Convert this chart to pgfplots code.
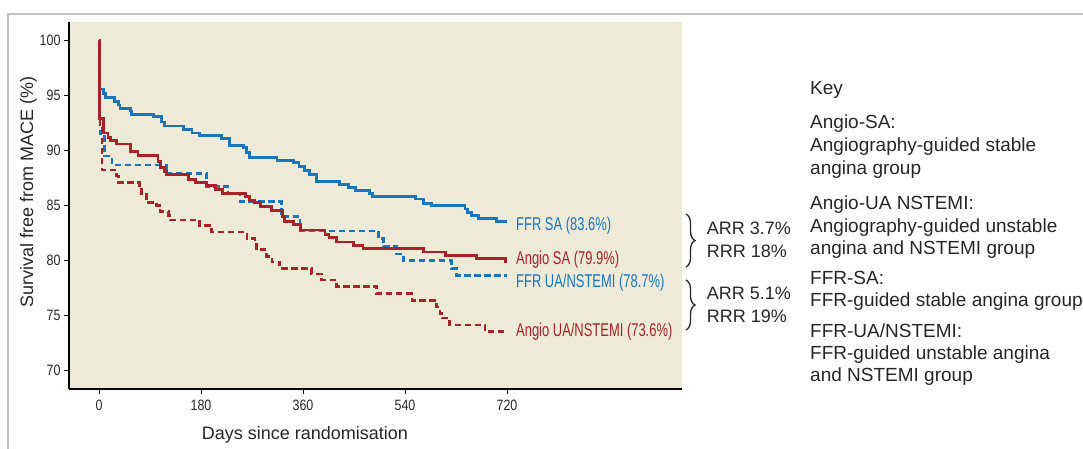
\documentclass[border=0pt]{standalone}
\usepackage{pgfplots}
\pgfplotsset{compat=1.18}
\usepackage{fontspec}
\setmainfont{Liberation Sans}
\newfontfamily\condensed[FakeStretch=0.70]{Liberation Sans}
\newfontfamily\tickfont[FakeStretch=0.83]{Liberation Sans}
\usetikzlibrary{decorations.pathreplacing}
\definecolor{ffrblue}{RGB}{27,117,188}
\definecolor{angred}{RGB}{168,34,40}
\definecolor{bgbeige}{RGB}{237,234,216}
\definecolor{framegray}{RGB}{195,195,195}
\begin{document}
\begin{tikzpicture}[x=1pt,y=1pt]
\useasboundingbox (0pt,0pt) rectangle (1083pt,449pt);
\draw[framegray, line width=1.5pt] (8pt,-5pt) -- (8pt,435pt) -- (1090pt,435pt);
\begin{axis}[
  at={(69pt,60pt)}, anchor=south west,
  scale only axis, width=613pt, height=366.7pt,
  xmin=-52.9, xmax=1028.8, ymin=68.34, ymax=101.67,
  axis x line=bottom, axis y line=left,
  axis line style={-, line width=1.3pt, black},
  axis background/.style={fill=bgbeige},
  xtick={0,180,360,540,720}, ytick={70,75,80,85,90,95,100},
  tick align=outside, major tick length=5pt,
  tick style={line width=0.9pt, black},
  tick label style={font=\tickfont\fontsize{15}{15}\selectfont, text=black!85},
  xticklabel style={yshift=-2pt},
  /pgf/number format/assume math mode=true,
  clip=false,
]
% FFR UA/NSTEMI (blue dashed)
\addplot[const plot, ffrblue, line width=2.6pt, dash pattern=on 6.5pt off 3.5pt] table {
0 100
1.5 91.5
10 89.5
23 88.7
119 87.9
190 86.75
228 86.1
249 85.4
322 84.0
355 82.7
493 82.0
502 81.3
525 80.6
537 80.0
622 79.3
631 78.65
720 78.65
};
% Angio UA/NSTEMI (red dashed)
\addplot[const plot, angred, line width=2.6pt, dash pattern=on 6.5pt off 3.5pt] table {
0 100
1.5 92.0
5 88.25
31 87.7
34 87.1
71 86.6
75 86.0
84 85.3
102 85.0
108 84.45
123 84.1
125 83.7
177 83.2
199 82.6
261 82.0
275 81.5
278 81.0
293 80.8
296 80.4
305 79.9
319 79.3
375 78.8
393 78.25
419 77.65
490 77.0
552 76.4
596 75.8
602 75.2
605 74.8
619 74.15
681 73.55
720 73.55
};
% FFR SA (blue solid)
\addplot[const plot, ffrblue, line width=2.8pt] table {
0 100
1.5 95.6
8 95.2
12 94.8
28 94.45
34 94.15
37 93.85
55 93.6
57 93.3
96 93.1
111 92.6
116 92.25
149 91.95
164 91.6
178 91.4
216 91.1
231 90.5
255 90.3
261 89.8
266 89.4
314 89.1
343 88.9
353 88.55
363 88.2
372 87.8
384 87.2
425 86.95
440 86.65
452 86.4
478 86.1
483 85.8
558 85.6
572 85.2
587 85.0
646 84.7
650 84.4
658 84.1
669 83.85
702 83.55
720 83.55
};
% Angio SA (red solid)
\addplot[const plot, angred, line width=2.8pt] table {
0 100
1.5 92.9
8 91.6
16 91.2
21 90.9
31 90.6
56 89.9
69 89.55
104 89.0
108 88.5
116 88.1
119 87.8
158 87.4
171 87.1
190 86.85
205 86.5
218 86.1
259 85.8
266 85.5
275 85.3
285 84.9
305 84.6
324 84.0
328 83.6
343 83.3
355 82.8
399 82.4
406 82.1
419 81.7
449 81.4
466 81.1
572 80.8
611 80.5
666 80.2
718 79.9
720 79.9
};
\end{axis}
% axis labels
\node[anchor=base west, font=\fontsize{18}{18}\selectfont, inner sep=0pt, text=black!85] at (201.7pt,9pt) {Days since randomisation};
\node[anchor=base, rotate=90, font=\fontsize{18}{18}\selectfont, inner sep=0pt, text=black!85] at (33pt,257pt) {Survival free from MACE (\%)};
% curve labels
\begin{scope}[every node/.style={anchor=base west, inner sep=0pt, font=\condensed\fontsize{18.5}{18.5}\selectfont}]
\node[text=ffrblue] at (516pt,218pt) {FFR SA (83.6\%)};
\node[text=angred] at (516pt,184pt) {Angio SA (79.9\%)};
\node[text=ffrblue] at (516pt,161.3pt) {FFR UA/NSTEMI (78.7\%)};
\node[text=angred] at (516pt,112.3pt) {Angio UA/NSTEMI (73.6\%)};
\end{scope}
% braces
\draw[line width=1.3pt, black!85, decorate, decoration={brace, amplitude=9pt}] (686pt,235pt) -- (686pt,182pt);
\draw[line width=1.3pt, black!85, decorate, decoration={brace, amplitude=9pt}] (686pt,169pt) -- (686pt,119pt);
\begin{scope}[every node/.style={anchor=base west, inner sep=0pt, font=\fontsize{18}{18}\selectfont, text=black!85}]
\node at (706.7pt,214pt) {ARR 3.7\%};
\node at (706.7pt,191pt) {RRR 18\%};
\node at (706.7pt,149pt) {ARR 5.1\%};
\node at (706.7pt,126pt) {RRR 19\%};
\end{scope}
% key
\begin{scope}[every node/.style={anchor=base west, inner sep=0pt, font=\fontsize{19}{19}\selectfont, text=black!85}]
\node at (810pt,354pt) {Key};
\node at (810pt,320.7pt) {Angio-SA:};
\node at (810pt,297.3pt) {Angiography-guided stable};
\node at (810pt,274pt) {angina group};
\node at (810pt,239pt) {Angio-UA NSTEMI:};
\node at (810pt,216pt) {Angiography-guided unstable};
\node at (810pt,194pt) {angina and NSTEMI group};
\node at (810pt,164pt) {FFR-SA:};
\node at (810pt,142.3pt) {FFR-guided stable angina group};
\node at (810pt,111pt) {FFR-UA/NSTEMI:};
\node at (810pt,89pt) {FFR-guided unstable angina};
\node at (810pt,67.3pt) {and NSTEMI group};
\end{scope}
\end{tikzpicture}
\end{document}
